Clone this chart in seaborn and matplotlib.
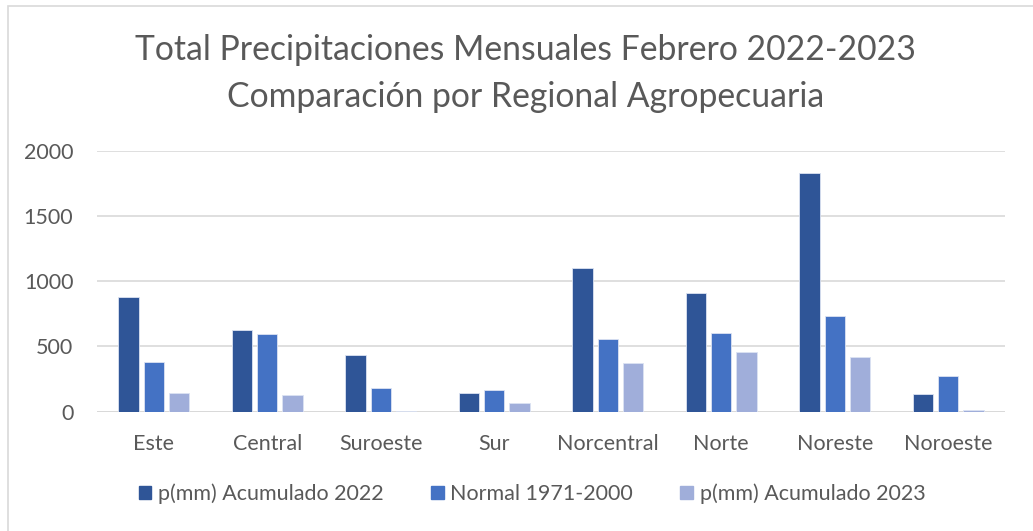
import pandas as pd
import matplotlib.pyplot as plt
import matplotlib.patches as mpatches
import seaborn as sns

regiones = ["Este", "Central", "Suroeste", "Sur", "Norcentral", "Norte", "Noreste", "Noroeste"]
acum_2022 = [876, 623, 434, 146, 1098, 907, 1829, 135]
normal = [381, 593, 179, 166, 557, 605, 730, 271]
acum_2023 = [146, 125, 2, 64, 375, 455, 419, 12]
series = ["p(mm) Acumulado 2022", "Normal 1971-2000", "p(mm) Acumulado 2023"]
colores = ["#2F5597", "#4472C4", "#A0AEDA"]

df = pd.DataFrame({"region": regiones * 3,
                   "serie": [s for s in series for _ in regiones],
                   "valor": acum_2022 + normal + acum_2023})

sns.set_theme(style="white")
plt.rcParams["font.family"] = ["Lato", "DejaVu Sans"]
gris = "#595959"

fig = plt.figure(figsize=(10.33, 5.31), dpi=100)
ax = fig.add_axes([0.0939, 0.2247, 0.879, 0.4915])

sns.barplot(data=df, x="region", y="valor", hue="serie", palette=colores,
            saturation=1, width=0.67, gap=0.2, edgecolor="#DCE3F2", linewidth=0.6,
            legend=False, ax=ax, zorder=3)

ax.set_xlim(-0.5, 7.5)
ax.set_ylim(0, 2000)
ax.set_yticks([0, 500, 1000, 1500, 2000])
ax.yaxis.grid(True, color="#D9D9D9", linewidth=1.2, zorder=0)
ax.set_axisbelow(True)
for s in ax.spines.values():
    s.set_visible(False)
ax.axhline(0, color="#D9D9D9", linewidth=1.4, zorder=1)
ax.set_xlabel("")
ax.set_ylabel("")
ax.tick_params(axis="x", length=0, pad=16, labelsize=15.5, labelcolor=gris)
ax.tick_params(axis="y", length=0, pad=17, labelsize=15.5, labelcolor=gris)

fig.text(0.509, 0.905, "Total Precipitaciones Mensuales Febrero 2022-2023",
         ha="center", va="center", fontsize=24.3, color=gris)
fig.text(0.509, 0.817, "Comparación por Regional Agropecuaria",
         ha="center", va="center", fontsize=24.3, color=gris)

handles = [mpatches.Patch(color=c, label=s) for c, s in zip(colores, series)]
fig.legend(handles=handles, loc="center", bbox_to_anchor=(0.515, 0.07), ncol=3,
           frameon=False, fontsize=15.5, labelcolor=gris, handlelength=0.6,
           handleheight=0.6, handletextpad=0.3, columnspacing=2.2)

fig.patches.append(mpatches.Rectangle((8 / 1033, -0.1), 1.2, 1.1 - 6 / 531,
                                      transform=fig.transFigure, fill=False,
                                      edgecolor="#D9D9D9", linewidth=1.2))

fig.savefig("out.png", dpi=100)
